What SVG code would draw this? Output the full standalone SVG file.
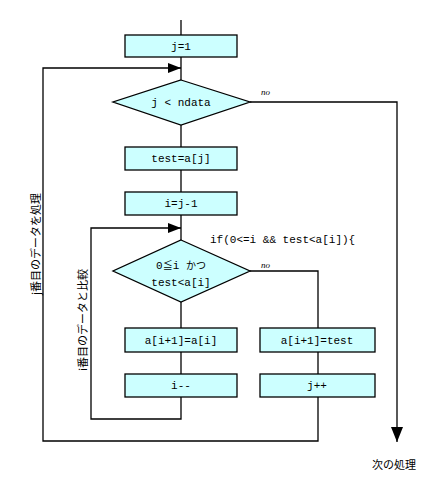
<svg xmlns="http://www.w3.org/2000/svg" width="442" height="499" viewBox="0 0 442 499">
<style>
.box{fill:#ccffff;stroke:#000;stroke-width:1.3}
.ln{fill:none;stroke:#000;stroke-width:1.3}
.t{font-family:"Liberation Mono","DejaVu Sans Mono",monospace;font-size:11px;fill:#000;text-anchor:middle}
.j{font-family:"Noto Sans CJK JP","Noto Sans",sans-serif;font-size:11px;fill:#000}
.no{font-family:"Liberation Serif",serif;font-style:italic;font-size:9px;fill:#000}
</style>
<defs>
<marker id="ah" markerWidth="14" markerHeight="10" refX="13" refY="5" orient="auto" markerUnits="userSpaceOnUse">
<path d="M0,0 L13,5 L0,10 Z" fill="#000"/>
</marker>
<marker id="ah2" markerWidth="16" markerHeight="12" refX="15" refY="6" orient="auto" markerUnits="userSpaceOnUse">
<path d="M0,0 L15,6 L0,12 Z" fill="#000"/>
</marker>
</defs>
<rect width="442" height="499" fill="#fff"/>
<g id="connectors">
<line class="ln" x1="181" y1="20" x2="181" y2="35"/>
<line class="ln" x1="181" y1="57" x2="181" y2="80"/>
<line class="ln" x1="181" y1="125" x2="181" y2="147"/>
<line class="ln" x1="181" y1="170" x2="181" y2="192"/>
<line class="ln" x1="181" y1="215" x2="181" y2="240"/>
<line class="ln" x1="181" y1="302" x2="181" y2="328"/>
<line class="ln" x1="181" y1="352" x2="181" y2="374"/>
<polyline class="ln" points="181,397 181,419 91,419 91,228 181,228" marker-end="url(#ah)"/>
<polyline class="ln" points="318,397 318,441 43,441 43,68 181,68" marker-end="url(#ah)"/>
<polyline class="ln" points="250,102 397,102 397,442" marker-end="url(#ah2)"/>
<polyline class="ln" points="250,271 318,271 318,328"/>
<line class="ln" x1="318" y1="352" x2="318" y2="374"/>
<text class="no" x="261" y="95">no</text>
<text class="no" x="261" y="268">no</text>
</g>
<g id="n-j1"><rect class="box" x="125" y="35" width="112" height="22"/><text class="t" x="181" y="50">j=1</text></g>
<g id="n-cond1"><polygon class="box" points="181,80 250,102 181,125 113,102"/><text class="t" x="181" y="106">j &lt; ndata</text></g>
<g id="n-test"><rect class="box" x="125" y="147" width="112" height="23"/><text class="t" x="181" y="162">test=a[j]</text></g>
<g id="n-i"><rect class="box" x="125" y="192" width="112" height="23"/><text class="t" x="181" y="207">i=j-1</text></g>
<g id="n-if"><text class="t" x="210" y="243" style="text-anchor:start">if(0&lt;=i &amp;&amp; test&lt;a[i]){</text></g>
<g id="n-cond2"><polygon class="box" points="181,240 250,271 181,302 113,271"/>
<text class="t" x="181" y="269"><tspan>0</tspan><tspan style="font-family:'Noto Sans CJK JP',sans-serif;font-size:10px">≦</tspan><tspan>i </tspan><tspan style="font-family:'Noto Sans CJK JP',sans-serif;font-size:10px">かつ</tspan></text>
<text class="t" x="181" y="286">test&lt;a[i]</text></g>
<g id="n-shift"><rect class="box" x="125" y="328" width="112" height="24"/><text class="t" x="181" y="344">a[i+1]=a[i]</text></g>
<g id="n-set"><rect class="box" x="260" y="328" width="115" height="24"/><text class="t" x="317" y="344">a[i+1]=test</text></g>
<g id="n-idec"><rect class="box" x="125" y="374" width="112" height="23"/><text class="t" x="181" y="389">i--</text></g>
<g id="n-jinc"><rect class="box" x="260" y="374" width="115" height="23"/><text class="t" x="317" y="389">j++</text></g>
<g id="labels">
<text class="j" transform="translate(40,244) rotate(-90)" text-anchor="middle">j番目のデータを処理</text>
<text class="j" transform="translate(87,320) rotate(-90)" text-anchor="middle">i番目のデータと比較</text>
<text class="j" x="372" y="469">次の処理</text>
</g>
</svg>
